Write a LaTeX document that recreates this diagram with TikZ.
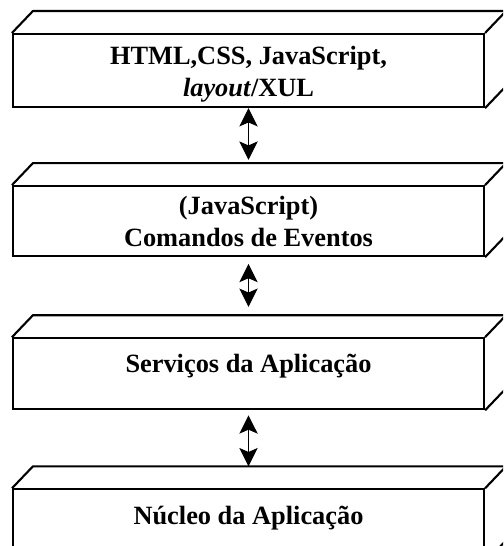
\documentclass[tikz,border=0pt]{standalone}
\usepackage{fontspec}
\setmainfont{Liberation Serif}
\usepackage{tikz}
\usetikzlibrary{positioning, arrows.meta}

\tikzset{
  camada/.style={rectangle, draw, line width=1.8pt, inner sep=0pt, minimum width=14.13cm,
    align=center, font=\fontsize{22.5}{27.3}\selectfont\bfseries},
  face/.style={draw, line width=1.8pt, line join=round},
  seta/.style={line width=1pt,
    {Stealth[length=0.55cm, width=0.55cm, inset=0.12cm]}-{Stealth[length=0.55cm, width=0.55cm, inset=0.12cm]}}
}

\begin{document}
\begin{tikzpicture}
					\useasboundingbox (0,0) rectangle (15.09,16.38);
					\clip (0,0) rectangle (15.09,16.38);
					
					% Camadas (face frontal)
					\node[camada, anchor=north, text height=1.86cm, text depth=0.33cm] (interface) at (7.455,15.39) {HTML,CSS, JavaScript,\\ \textit{layout}/XUL};
					\node[camada, below=2.31cm of interface, text height=1.8cm, text depth=0.3cm] (eventos) {(JavaScript)\\ Comandos de Eventos};
					\node[camada, below=2.4cm of eventos, text height=1.02cm, text depth=1.11cm] (servicos) {Serviços da Aplicação};
					\node[camada, below=2.34cm of servicos, text height=1.05cm, text depth=1.11cm] (nucleo) {Núcleo da Aplicação};
					
					% Faces de cima e da direita
					\foreach \c in {interface, eventos, servicos, nucleo} {
						\draw[face] (\c.north west) -- ++(0.63,0.66) -- ([shift={(0.63,0.66)}]\c.north east) -- ([shift={(0.63,0.66)}]\c.south east) -- (\c.south east);
						\draw[face] (\c.north east) -- ++(0.63,0.66);
						\coordinate (\c-fundo) at ([yshift=0.66cm]\c.north);
					}
					
					% Setas entre camadas
					\draw[seta, shorten >=0.1cm] (interface.south) -- (interface.south |- eventos-fundo);
					\draw[seta, shorten <=0.2cm, shorten >=0.25cm] (eventos.south) -- (eventos.south |- servicos-fundo);
					\draw[seta, shorten <=0.15cm] (servicos.south) -- (servicos.south |- nucleo-fundo);
				\end{tikzpicture}
\end{document}
